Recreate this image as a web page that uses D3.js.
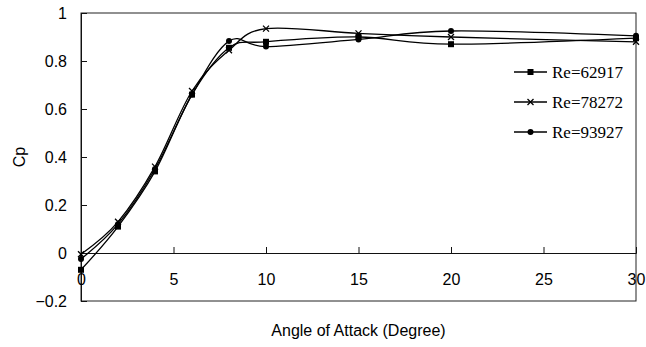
<!DOCTYPE html>
<html>
<head>
<meta charset="utf-8">
<script src="https://cdn.jsdelivr.net/npm/d3@7"></script>
<style>
  html, body { margin: 0; padding: 0; background: #fff; }
  svg { display: block; }
</style>
</head>
<body>
<div id="chart"></div>
<script>
// data
const angles = [0, 2, 4, 6, 8, 10, 15, 20, 30];
const re62917 = [-0.07, 0.11, 0.34, 0.66, 0.855, 0.88, 0.90, 0.87, 0.895];
const re78272 = [-0.005, 0.13, 0.36, 0.675, 0.845, 0.935, 0.915, 0.90, 0.88];
const re93927 = [-0.025, 0.12, 0.35, 0.66, 0.883, 0.86, 0.89, 0.925, 0.905];
const seriesNames = ['Re=62917', 'Re=78272', 'Re=93927'];
const markers = ['square', 'cross', 'circle'];
const xTicks = [0, 5, 10, 15, 20, 25, 30];
const yTicks = [-0.2, 0, 0.2, 0.4, 0.6, 0.8, 1];

// settings
const width = 646;
const height = 347;
const margin = { top: 13, right: 10, bottom: 46, left: 81 };

const svg = d3.select('#chart')
  .append('svg')
  .attr('width', width)
  .attr('height', height);

const x = d3.scaleLinear().domain([0, 30]).range([margin.left, 636]);
const y = d3.scaleLinear().domain([-0.2, 1]).range([301, margin.top]);

const series = [re62917, re78272, re93927].map((values, i) => ({
  name: seriesNames[i],
  marker: markers[i],
  values
}));

// frame
svg.append('rect')
  .attr('x', x(0))
  .attr('y', y(1))
  .attr('width', x(30) - x(0))
  .attr('height', y(-0.2) - y(1))
  .attr('fill', 'none')
  .attr('stroke', '#222')
  .attr('stroke-width', 1);

// y axis
svg.append('g')
  .attr('transform', `translate(${x(0)},0)`)
  .call(d3.axisLeft(y).tickValues(yTicks).tickSize(-6).tickPadding(14).tickFormat(d => d3.format('')(+d.toFixed(1))))
  .call(g => g.select('.domain').attr('stroke', '#111'))
  .call(g => g.selectAll('.tick line').attr('stroke', '#111'))
  .call(g => g.selectAll('text')
    .attr('font-family', 'Liberation Sans, Arial, sans-serif')
    .attr('font-size', 16)
    .attr('fill', '#000'));

// x axis on the zero line
svg.append('g')
  .attr('transform', `translate(0,${y(0)})`)
  .call(d3.axisBottom(x).tickValues(xTicks).tickSize(-6).tickPadding(0).tickFormat(d3.format('d')))
  .call(g => g.select('.domain').attr('stroke', '#111'))
  .call(g => g.selectAll('.tick line').attr('stroke', '#111'))
  .call(g => g.selectAll('text')
    .attr('y', 32)
    .attr('dy', 0)
    .attr('font-family', 'Liberation Sans, Arial, sans-serif')
    .attr('font-size', 16)
    .attr('fill', '#000'));

// axis titles
svg.append('text')
  .attr('transform', `translate(25,${(y(1) + y(-0.2)) / 2}) rotate(-90)`)
  .attr('text-anchor', 'middle')
  .attr('font-family', 'Liberation Sans, Arial, sans-serif')
  .attr('font-size', 16)
  .text('Cp');

svg.append('text')
  .attr('x', (x(0) + x(30)) / 2)
  .attr('y', 336)
  .attr('text-anchor', 'middle')
  .attr('font-family', 'Liberation Sans, Arial, sans-serif')
  .attr('font-size', 16)
  .text('Angle of Attack (Degree)');

// lines
const line = d3.line()
  .curve(d3.curveCatmullRom.alpha(0))
  .x((d, i) => x(angles[i]))
  .y(d => y(d));

svg.append('g')
  .attr('fill', 'none')
  .attr('stroke', '#000')
  .attr('stroke-width', 1.3)
  .selectAll('path')
  .data(series)
  .join('path')
  .attr('d', d => line(d.values));

function drawMarker (g, type, cx, cy) {
  if (type === 'square') {
    g.append('rect')
      .attr('x', cx - 3).attr('y', cy - 3)
      .attr('width', 6).attr('height', 6)
      .attr('fill', '#000');
  } else if (type === 'cross') {
    g.append('path')
      .attr('d', `M${cx - 3},${cy - 3}L${cx + 3},${cy + 3}M${cx - 3},${cy + 3}L${cx + 3},${cy - 3}`)
      .attr('stroke', '#000')
      .attr('stroke-width', 1.3)
      .attr('fill', 'none');
  } else {
    g.append('circle')
      .attr('cx', cx).attr('cy', cy)
      .attr('r', 3)
      .attr('fill', '#000');
  }
}

const markerG = svg.append('g');
series.forEach(s => {
  s.values.forEach((v, i) => drawMarker(markerG, s.marker, x(angles[i]), y(v)));
});

// legend
const legend = svg.append('g');
series.forEach((s, i) => {
  const ly = 72 + i * 30;
  legend.append('line')
    .attr('x1', 514).attr('x2', 547)
    .attr('y1', ly).attr('y2', ly)
    .attr('stroke', '#000')
    .attr('stroke-width', 1.3);
  drawMarker(legend, s.marker, 530.5, ly);
  legend.append('text')
    .attr('x', 552)
    .attr('y', ly + 5.5)
    .attr('font-family', 'Liberation Serif, Times New Roman, serif')
    .attr('font-size', 17)
    .text(s.name);
});
</script>
</body>
</html>
